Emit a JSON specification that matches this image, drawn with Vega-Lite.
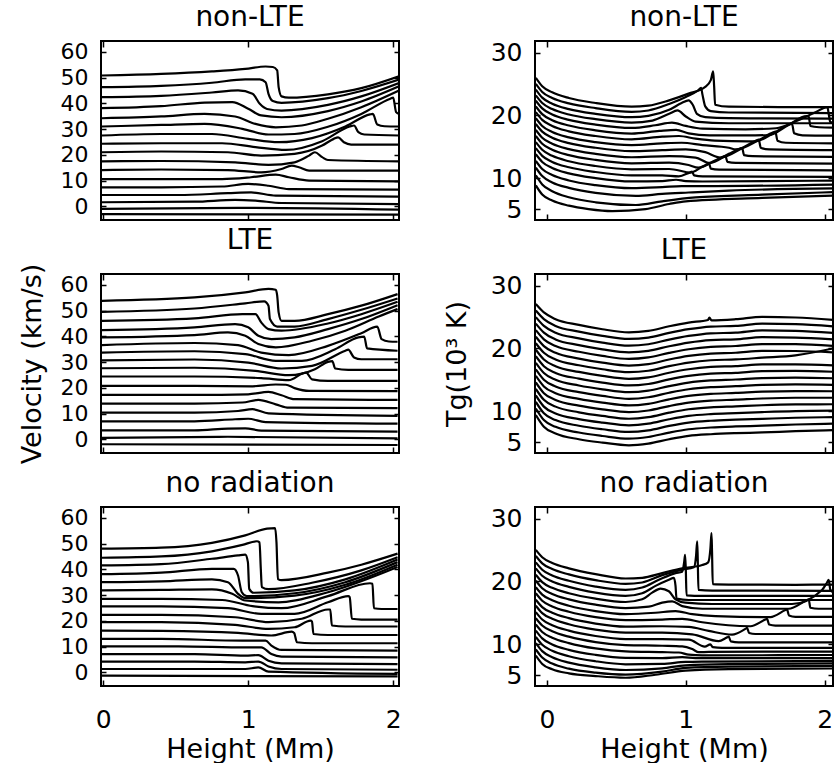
{
"$schema":"https://vega.github.io/schema/vega-lite/v6.json",
"background":"white",
"padding":{"left":17,"top":3,"right":0,"bottom":0},
"config":{
"font":"DejaVu Sans",
"view":{"stroke":"black","strokeWidth":2},
"axis":{"grid":false,"domain":false,"tickColor":"black","tickWidth":1.5,"labelColor":"black","labelFontSize":25,"titleFontSize":27,"titleFontWeight":"normal","titleColor":"black","labelFont":"DejaVu Sans","titleFont":"DejaVu Sans","format":"d"},
"title":{"fontSize":28,"fontWeight":"normal","color":"black","font":"DejaVu Sans","offset":8},
"line":{"color":"black","strokeWidth":2.2}
},
"datasets":{
"nv":[
{"c":0,"h":-0.01,"v":50.8},{"c":0,"h":0.4,"v":51.4},{"c":0,"h":0.75,"v":52.4},{"c":0,"h":0.98,"v":53.4},{"c":0,"h":1.12,"v":54.3},{"c":0,"h":1.17,"v":54.1},{"c":0,"h":1.2,"v":52.8},{"c":0,"h":1.21,"v":46.3},{"c":0,"h":1.23,"v":42.7},{"c":0,"h":1.28,"v":42.2},{"c":0,"h":1.55,"v":43.5},{"c":0,"h":1.78,"v":45.9},{"c":0,"h":2.04,"v":50.5},
{"c":1,"h":-0.01,"v":46.3},{"c":1,"h":0.4,"v":46.8},{"c":1,"h":0.75,"v":48.0},{"c":1,"h":0.98,"v":49.3},{"c":1,"h":1.08,"v":49.3},{"c":1,"h":1.12,"v":48.2},{"c":1,"h":1.14,"v":43.7},{"c":1,"h":1.17,"v":40.9},{"c":1,"h":1.23,"v":40.2},{"c":1,"h":1.55,"v":42.0},{"c":1,"h":1.78,"v":44.8},{"c":1,"h":2.04,"v":49.2},
{"c":2,"h":-0.01,"v":42.4},{"c":2,"h":0.4,"v":42.9},{"c":2,"h":0.75,"v":44.2},{"c":2,"h":0.93,"v":45.0},{"c":2,"h":1.03,"v":43.7},{"c":2,"h":1.08,"v":39.8},{"c":2,"h":1.13,"v":37.8},{"c":2,"h":1.23,"v":37.2},{"c":2,"h":1.55,"v":39.4},{"c":2,"h":1.78,"v":42.7},{"c":2,"h":2.04,"v":47.9},
{"c":3,"h":-0.01,"v":38.1},{"c":3,"h":0.4,"v":38.9},{"c":3,"h":0.7,"v":40.3},{"c":3,"h":0.89,"v":40.5},{"c":3,"h":1.0,"v":37.9},{"c":3,"h":1.09,"v":35.3},{"c":3,"h":1.23,"v":34.6},{"c":3,"h":1.55,"v":37.0},{"c":3,"h":1.78,"v":40.7},{"c":3,"h":2.04,"v":46.6},
{"c":4,"h":-0.01,"v":34.2},{"c":4,"h":0.4,"v":34.9},{"c":4,"h":0.7,"v":35.9},{"c":4,"h":0.91,"v":34.9},{"c":4,"h":1.05,"v":32.0},{"c":4,"h":1.19,"v":30.7},{"c":4,"h":1.37,"v":31.4},{"c":4,"h":1.55,"v":34.0},{"c":4,"h":1.78,"v":38.5},{"c":4,"h":2.04,"v":45.0},
{"c":5,"h":-0.01,"v":31.0},{"c":5,"h":0.4,"v":31.6},{"c":5,"h":0.7,"v":32.0},{"c":5,"h":0.96,"v":30.1},{"c":5,"h":1.14,"v":27.9},{"c":5,"h":1.32,"v":28.1},{"c":5,"h":1.55,"v":30.9},{"c":5,"h":1.78,"v":35.9},{"c":5,"h":1.98,"v":41.8},{"c":5,"h":2.0,"v":42.2},{"c":5,"h":2.02,"v":36.6},{"c":5,"h":2.04,"v":35.9},
{"c":6,"h":-0.01,"v":27.5},{"c":6,"h":0.4,"v":28.1},{"c":6,"h":0.75,"v":28.1},{"c":6,"h":1.0,"v":26.2},{"c":6,"h":1.21,"v":24.9},{"c":6,"h":1.44,"v":26.5},{"c":6,"h":1.67,"v":31.0},{"c":6,"h":1.84,"v":35.7},{"c":6,"h":1.86,"v":35.9},{"c":6,"h":1.89,"v":31.8},{"c":6,"h":1.94,"v":31.1},{"c":6,"h":2.04,"v":31.0},
{"c":7,"h":-0.01,"v":24.3},{"c":7,"h":0.4,"v":24.5},{"c":7,"h":0.82,"v":24.5},{"c":7,"h":1.05,"v":23.0},{"c":7,"h":1.26,"v":21.9},{"c":7,"h":1.51,"v":25.3},{"c":7,"h":1.7,"v":31.0},{"c":7,"h":1.73,"v":31.4},{"c":7,"h":1.76,"v":28.8},{"c":7,"h":1.8,"v":27.9},{"c":7,"h":2.04,"v":27.5},
{"c":8,"h":-0.01,"v":21.0},{"c":8,"h":0.4,"v":21.3},{"c":8,"h":0.86,"v":21.0},{"c":8,"h":1.09,"v":19.7},{"c":8,"h":1.32,"v":20.4},{"c":8,"h":1.51,"v":23.6},{"c":8,"h":1.59,"v":26.2},{"c":8,"h":1.62,"v":26.8},{"c":8,"h":1.66,"v":24.9},{"c":8,"h":1.71,"v":24.0},{"c":8,"h":2.04,"v":24.0},
{"c":9,"h":-0.01,"v":17.5},{"c":9,"h":0.4,"v":17.6},{"c":9,"h":0.91,"v":17.1},{"c":9,"h":1.14,"v":16.1},{"c":9,"h":1.32,"v":17.1},{"c":9,"h":1.42,"v":19.7},{"c":9,"h":1.46,"v":21.0},{"c":9,"h":1.51,"v":19.1},{"c":9,"h":1.55,"v":18.0},{"c":9,"h":2.04,"v":17.5},
{"c":10,"h":-0.01,"v":14.1},{"c":10,"h":0.4,"v":14.3},{"c":10,"h":0.86,"v":14.1},{"c":10,"h":1.09,"v":13.2},{"c":10,"h":1.23,"v":14.5},{"c":10,"h":1.3,"v":15.8},{"c":10,"h":1.35,"v":15.2},{"c":10,"h":1.42,"v":13.9},{"c":10,"h":2.04,"v":13.9},
{"c":11,"h":-0.01,"v":10.6},{"c":11,"h":0.4,"v":10.6},{"c":11,"h":0.82,"v":10.6},{"c":11,"h":1.02,"v":11.3},{"c":11,"h":1.19,"v":12.3},{"c":11,"h":1.28,"v":11.3},{"c":11,"h":1.42,"v":10.0},{"c":11,"h":2.04,"v":9.7},
{"c":12,"h":-0.01,"v":7.4},{"c":12,"h":0.4,"v":7.4},{"c":12,"h":0.82,"v":7.7},{"c":12,"h":1.0,"v":8.7},{"c":12,"h":1.14,"v":8.0},{"c":12,"h":1.28,"v":6.7},{"c":12,"h":2.04,"v":6.5},
{"c":13,"h":-0.01,"v":4.4},{"c":13,"h":0.52,"v":4.4},{"c":13,"h":0.86,"v":5.1},{"c":13,"h":1.02,"v":5.4},{"c":13,"h":1.19,"v":4.2},{"c":13,"h":2.04,"v":3.8},
{"c":14,"h":-0.01,"v":1.6},{"c":14,"h":0.63,"v":1.8},{"c":14,"h":0.91,"v":2.5},{"c":14,"h":1.05,"v":2.2},{"c":14,"h":1.23,"v":1.3},{"c":14,"h":2.04,"v":0.9},
{"c":15,"h":-0.01,"v":-1.0},{"c":15,"h":0.93,"v":-0.6},{"c":15,"h":2.04,"v":-1.3},
{"c":16,"h":-0.01,"v":-3.0},{"c":16,"h":2.04,"v":-3.2}
],
"lv":[
{"c":0,"h":-0.01,"v":53.8},{"c":0,"h":0.63,"v":55.1},{"c":0,"h":0.98,"v":57.1},{"c":0,"h":1.14,"v":58.4},{"c":0,"h":1.19,"v":58.1},{"c":0,"h":1.2,"v":55.8},{"c":0,"h":1.21,"v":49.3},{"c":0,"h":1.23,"v":46.0},{"c":0,"h":1.32,"v":46.0},{"c":0,"h":1.55,"v":48.6},{"c":0,"h":1.78,"v":51.9},{"c":0,"h":2.03,"v":56.4},
{"c":1,"h":-0.01,"v":49.5},{"c":1,"h":0.63,"v":50.8},{"c":1,"h":0.98,"v":52.8},{"c":1,"h":1.11,"v":53.6},{"c":1,"h":1.14,"v":51.9},{"c":1,"h":1.15,"v":46.7},{"c":1,"h":1.2,"v":43.8},{"c":1,"h":1.32,"v":43.8},{"c":1,"h":1.55,"v":46.7},{"c":1,"h":1.78,"v":50.3},{"c":1,"h":2.03,"v":54.7},
{"c":2,"h":-0.01,"v":46.0},{"c":2,"h":0.63,"v":47.0},{"c":2,"h":0.96,"v":48.6},{"c":2,"h":1.05,"v":48.6},{"c":2,"h":1.09,"v":45.4},{"c":2,"h":1.14,"v":42.8},{"c":2,"h":1.23,"v":42.2},{"c":2,"h":1.55,"v":45.0},{"c":2,"h":1.78,"v":48.6},{"c":2,"h":2.03,"v":53.4},
{"c":3,"h":-0.01,"v":42.4},{"c":3,"h":0.63,"v":43.5},{"c":3,"h":0.91,"v":44.7},{"c":3,"h":1.0,"v":43.5},{"c":3,"h":1.07,"v":40.2},{"c":3,"h":1.16,"v":38.9},{"c":3,"h":1.32,"v":39.6},{"c":3,"h":1.55,"v":42.8},{"c":3,"h":1.78,"v":46.7},{"c":3,"h":2.03,"v":52.1},
{"c":4,"h":-0.01,"v":39.6},{"c":4,"h":0.63,"v":40.5},{"c":4,"h":0.86,"v":41.5},{"c":4,"h":0.98,"v":40.2},{"c":4,"h":1.07,"v":37.0},{"c":4,"h":1.19,"v":35.7},{"c":4,"h":1.44,"v":38.3},{"c":4,"h":1.67,"v":42.2},{"c":4,"h":1.9,"v":47.7},{"c":4,"h":2.03,"v":50.6},
{"c":5,"h":-0.01,"v":36.6},{"c":5,"h":0.63,"v":37.4},{"c":5,"h":0.93,"v":36.6},{"c":5,"h":1.09,"v":33.7},{"c":5,"h":1.28,"v":32.7},{"c":5,"h":1.55,"v":36.3},{"c":5,"h":1.78,"v":41.2},{"c":5,"h":1.89,"v":43.8},{"c":5,"h":1.92,"v":38.9},{"c":5,"h":1.97,"v":38.0},{"c":5,"h":2.03,"v":37.9},
{"c":6,"h":-0.01,"v":33.7},{"c":6,"h":0.63,"v":34.2},{"c":6,"h":0.98,"v":33.1},{"c":6,"h":1.19,"v":30.5},{"c":6,"h":1.37,"v":30.5},{"c":6,"h":1.6,"v":35.0},{"c":6,"h":1.76,"v":39.6},{"c":6,"h":1.8,"v":39.9},{"c":6,"h":1.82,"v":35.3},{"c":6,"h":2.03,"v":34.4},
{"c":7,"h":-0.01,"v":30.7},{"c":7,"h":0.63,"v":31.0},{"c":7,"h":1.0,"v":29.8},{"c":7,"h":1.23,"v":27.5},{"c":7,"h":1.44,"v":28.5},{"c":7,"h":1.67,"v":34.4},{"c":7,"h":1.69,"v":34.8},{"c":7,"h":1.73,"v":31.8},{"c":7,"h":1.78,"v":31.1},{"c":7,"h":2.03,"v":31.1},
{"c":8,"h":-0.01,"v":27.6},{"c":8,"h":0.63,"v":27.8},{"c":8,"h":1.05,"v":26.6},{"c":8,"h":1.28,"v":24.9},{"c":8,"h":1.46,"v":27.2},{"c":8,"h":1.55,"v":30.1},{"c":8,"h":1.58,"v":30.4},{"c":8,"h":1.6,"v":27.5},{"c":8,"h":1.69,"v":27.0},{"c":8,"h":2.03,"v":27.0},
{"c":9,"h":-0.01,"v":24.4},{"c":9,"h":0.63,"v":24.4},{"c":9,"h":1.09,"v":23.8},{"c":9,"h":1.28,"v":23.0},{"c":9,"h":1.38,"v":25.7},{"c":9,"h":1.4,"v":25.9},{"c":9,"h":1.44,"v":23.3},{"c":9,"h":1.55,"v":22.7},{"c":9,"h":2.03,"v":22.7},
{"c":10,"h":-0.01,"v":20.8},{"c":10,"h":0.63,"v":20.8},{"c":10,"h":1.03,"v":20.6},{"c":10,"h":1.19,"v":21.3},{"c":10,"h":1.26,"v":21.2},{"c":10,"h":1.32,"v":19.9},{"c":10,"h":1.42,"v":18.8},{"c":10,"h":2.03,"v":18.7},
{"c":11,"h":-0.01,"v":17.3},{"c":11,"h":0.63,"v":17.3},{"c":11,"h":1.0,"v":17.5},{"c":11,"h":1.14,"v":18.4},{"c":11,"h":1.23,"v":17.1},{"c":11,"h":1.32,"v":15.6},{"c":11,"h":2.03,"v":15.3},
{"c":12,"h":-0.01,"v":13.9},{"c":12,"h":0.63,"v":13.9},{"c":12,"h":0.96,"v":14.3},{"c":12,"h":1.07,"v":15.3},{"c":12,"h":1.19,"v":13.6},{"c":12,"h":1.28,"v":12.3},{"c":12,"h":2.03,"v":12.1},
{"c":13,"h":-0.01,"v":10.4},{"c":13,"h":0.63,"v":10.4},{"c":13,"h":0.93,"v":11.0},{"c":13,"h":1.03,"v":11.7},{"c":13,"h":1.14,"v":10.1},{"c":13,"h":2.03,"v":9.1},
{"c":14,"h":-0.01,"v":7.0},{"c":14,"h":0.63,"v":7.0},{"c":14,"h":0.91,"v":7.8},{"c":14,"h":1.0,"v":8.0},{"c":14,"h":1.12,"v":6.7},{"c":14,"h":2.03,"v":6.1},
{"c":15,"h":-0.01,"v":3.5},{"c":15,"h":0.63,"v":3.5},{"c":15,"h":0.86,"v":4.2},{"c":15,"h":0.98,"v":4.3},{"c":15,"h":1.09,"v":3.4},{"c":15,"h":2.03,"v":3.0},
{"c":16,"h":-0.01,"v":0.6},{"c":16,"h":0.86,"v":1.0},{"c":16,"h":2.03,"v":0.4},
{"c":17,"h":-0.01,"v":-1.9},{"c":17,"h":2.03,"v":-2.2}
],
"rv":[
{"c":0,"h":-0.01,"v":48.0},{"c":0,"h":0.4,"v":48.4},{"c":0,"h":0.75,"v":50.3},{"c":0,"h":0.98,"v":53.2},{"c":0,"h":1.13,"v":55.8},{"c":0,"h":1.186,"v":56.0},{"c":0,"h":1.195,"v":50.6},{"c":0,"h":1.205,"v":36.2},{"c":0,"h":1.23,"v":35.8},{"c":0,"h":1.55,"v":38.7},{"c":0,"h":1.78,"v":41.8},{"c":0,"h":2.03,"v":46.1},
{"c":1,"h":-0.01,"v":44.5},{"c":1,"h":0.4,"v":45.0},{"c":1,"h":0.75,"v":47.0},{"c":1,"h":0.96,"v":49.5},{"c":1,"h":1.06,"v":50.9},{"c":1,"h":1.078,"v":50.5},{"c":1,"h":1.087,"v":40.2},{"c":1,"h":1.094,"v":33.1},{"c":1,"h":1.14,"v":32.3},{"c":1,"h":1.44,"v":34.8},{"c":1,"h":1.78,"v":39.6},{"c":1,"h":2.03,"v":44.7},
{"c":2,"h":-0.01,"v":41.5},{"c":2,"h":0.4,"v":42.0},{"c":2,"h":0.75,"v":44.1},{"c":2,"h":0.93,"v":45.4},{"c":2,"h":0.98,"v":45.7},{"c":2,"h":0.998,"v":42.8},{"c":2,"h":1.007,"v":32.4},{"c":2,"h":1.037,"v":30.9},{"c":2,"h":1.32,"v":31.8},{"c":2,"h":1.67,"v":36.1},{"c":2,"h":2.03,"v":43.8},
{"c":3,"h":-0.01,"v":38.1},{"c":3,"h":0.4,"v":38.7},{"c":3,"h":0.75,"v":40.2},{"c":3,"h":0.9,"v":40.2},{"c":3,"h":0.93,"v":37.6},{"c":3,"h":0.956,"v":31.1},{"c":3,"h":0.99,"v":29.6},{"c":3,"h":1.32,"v":30.7},{"c":3,"h":1.67,"v":35.0},{"c":3,"h":2.03,"v":42.8},
{"c":4,"h":-0.01,"v":35.0},{"c":4,"h":0.4,"v":35.3},{"c":4,"h":0.75,"v":36.1},{"c":4,"h":0.86,"v":35.0},{"c":4,"h":0.93,"v":30.5},{"c":4,"h":0.98,"v":28.8},{"c":4,"h":1.32,"v":29.8},{"c":4,"h":1.67,"v":34.0},{"c":4,"h":2.03,"v":41.8},
{"c":5,"h":-0.01,"v":31.8},{"c":5,"h":0.4,"v":32.0},{"c":5,"h":0.75,"v":32.2},{"c":5,"h":0.89,"v":30.5},{"c":5,"h":0.98,"v":27.9},{"c":5,"h":1.21,"v":27.2},{"c":5,"h":1.55,"v":31.1},{"c":5,"h":2.03,"v":40.9},
{"c":6,"h":-0.01,"v":28.5},{"c":6,"h":0.4,"v":28.5},{"c":6,"h":0.82,"v":28.1},{"c":6,"h":1.03,"v":25.7},{"c":6,"h":1.23,"v":24.9},{"c":6,"h":1.55,"v":29.6},{"c":6,"h":1.84,"v":34.6},{"c":6,"h":1.857,"v":34.4},{"c":6,"h":1.867,"v":24.9},{"c":6,"h":1.92,"v":24.6},{"c":6,"h":2.03,"v":24.6},
{"c":7,"h":-0.01,"v":25.6},{"c":7,"h":0.4,"v":25.6},{"c":7,"h":0.86,"v":24.9},{"c":7,"h":1.09,"v":22.7},{"c":7,"h":1.32,"v":22.7},{"c":7,"h":1.55,"v":27.2},{"c":7,"h":1.69,"v":29.6},{"c":7,"h":1.7,"v":29.2},{"c":7,"h":1.715,"v":20.8},{"c":7,"h":1.78,"v":20.5},{"c":7,"h":2.03,"v":20.5},
{"c":8,"h":-0.01,"v":22.3},{"c":8,"h":0.4,"v":22.3},{"c":8,"h":0.91,"v":21.4},{"c":8,"h":1.14,"v":19.5},{"c":8,"h":1.37,"v":20.8},{"c":8,"h":1.55,"v":24.4},{"c":8,"h":1.566,"v":24.4},{"c":8,"h":1.577,"v":18.2},{"c":8,"h":1.67,"v":17.8},{"c":8,"h":2.03,"v":17.8},
{"c":9,"h":-0.01,"v":19.5},{"c":9,"h":0.4,"v":19.5},{"c":9,"h":0.91,"v":18.4},{"c":9,"h":1.14,"v":16.9},{"c":9,"h":1.32,"v":17.5},{"c":9,"h":1.43,"v":20.1},{"c":9,"h":1.44,"v":19.7},{"c":9,"h":1.45,"v":14.9},{"c":9,"h":1.55,"v":14.5},{"c":9,"h":2.03,"v":14.5},
{"c":10,"h":-0.01,"v":16.2},{"c":10,"h":0.4,"v":16.1},{"c":10,"h":0.93,"v":15.3},{"c":10,"h":1.16,"v":14.3},{"c":10,"h":1.3,"v":15.8},{"c":10,"h":1.317,"v":15.3},{"c":10,"h":1.336,"v":11.7},{"c":10,"h":1.44,"v":11.3},{"c":10,"h":2.03,"v":11.3},
{"c":11,"h":-0.01,"v":13.0},{"c":11,"h":0.4,"v":13.0},{"c":11,"h":0.96,"v":12.3},{"c":11,"h":1.12,"v":12.3},{"c":11,"h":1.16,"v":10.4},{"c":11,"h":1.23,"v":8.7},{"c":11,"h":2.03,"v":8.4},
{"c":12,"h":-0.01,"v":10.1},{"c":12,"h":0.52,"v":10.1},{"c":12,"h":0.98,"v":9.7},{"c":12,"h":1.09,"v":9.7},{"c":12,"h":1.16,"v":7.1},{"c":12,"h":1.23,"v":6.1},{"c":12,"h":2.03,"v":5.8},
{"c":13,"h":-0.01,"v":7.1},{"c":13,"h":0.63,"v":7.1},{"c":13,"h":0.98,"v":6.5},{"c":13,"h":1.07,"v":6.7},{"c":13,"h":1.14,"v":4.5},{"c":13,"h":1.23,"v":3.5},{"c":13,"h":2.03,"v":3.2},
{"c":14,"h":-0.01,"v":4.2},{"c":14,"h":0.63,"v":4.2},{"c":14,"h":0.98,"v":3.9},{"c":14,"h":1.07,"v":4.2},{"c":14,"h":1.14,"v":2.3},{"c":14,"h":1.23,"v":1.3},{"c":14,"h":2.03,"v":1.0},
{"c":15,"h":-0.01,"v":1.3},{"c":15,"h":0.98,"v":1.3},{"c":15,"h":1.07,"v":1.9},{"c":15,"h":1.14,"v":0.3},{"c":15,"h":2.03,"v":-0.6},
{"c":16,"h":-0.01,"v":-1.3},{"c":16,"h":2.03,"v":-1.6}
],
"nt":[
{"c":0,"h":-0.08,"v":26.02},{"c":0,"h":-0.034,"v":24.68},{"c":0,"h":0.038,"v":23.71},{"c":0,"h":0.158,"v":22.79},{"c":0,"h":0.35,"v":21.99},{"c":0,"h":0.61,"v":21.4},{"c":0,"h":0.73,"v":21.56},{"c":0,"h":0.88,"v":22.42},{"c":0,"h":1.02,"v":23.49},{"c":0,"h":1.14,"v":24.57},{"c":0,"h":1.18,"v":25.64},{"c":0,"h":1.197,"v":27.04},{"c":0,"h":1.204,"v":24.68},{"c":0,"h":1.211,"v":21.72},{"c":0,"h":1.31,"v":21.4},{"c":0,"h":1.67,"v":21.34},{"c":0,"h":2.06,"v":21.34},
{"c":1,"h":-0.08,"v":25.05},{"c":1,"h":-0.034,"v":23.76},{"c":1,"h":0.038,"v":22.79},{"c":1,"h":0.158,"v":21.93},{"c":1,"h":0.35,"v":21.18},{"c":1,"h":0.61,"v":20.59},{"c":1,"h":0.73,"v":20.8},{"c":1,"h":0.88,"v":21.83},{"c":1,"h":1.0,"v":22.95},{"c":1,"h":1.09,"v":24.03},{"c":1,"h":1.11,"v":24.41},{"c":1,"h":1.12,"v":23.33},{"c":1,"h":1.14,"v":21.45},{"c":1,"h":1.18,"v":20.7},{"c":1,"h":1.31,"v":20.48},{"c":1,"h":2.06,"v":20.37},
{"c":2,"h":-0.08,"v":24.14},{"c":2,"h":-0.034,"v":22.85},{"c":2,"h":0.038,"v":21.88},{"c":2,"h":0.158,"v":21.02},{"c":2,"h":0.35,"v":20.27},{"c":2,"h":0.61,"v":19.73},{"c":2,"h":0.73,"v":19.94},{"c":2,"h":0.88,"v":20.91},{"c":2,"h":0.97,"v":21.99},{"c":2,"h":1.02,"v":22.42},{"c":2,"h":1.05,"v":21.72},{"c":2,"h":1.08,"v":20.27},{"c":2,"h":1.14,"v":19.73},{"c":2,"h":1.31,"v":19.57},{"c":2,"h":2.06,"v":19.51},
{"c":3,"h":-0.08,"v":23.22},{"c":3,"h":-0.034,"v":21.99},{"c":3,"h":0.038,"v":21.02},{"c":3,"h":0.158,"v":20.16},{"c":3,"h":0.35,"v":19.41},{"c":3,"h":0.61,"v":18.87},{"c":3,"h":0.76,"v":19.19},{"c":3,"h":0.88,"v":20.27},{"c":3,"h":0.94,"v":20.8},{"c":3,"h":1.0,"v":19.84},{"c":3,"h":1.07,"v":19.03},{"c":3,"h":1.31,"v":18.76},{"c":3,"h":2.06,"v":18.76},
{"c":4,"h":-0.08,"v":22.36},{"c":4,"h":-0.034,"v":21.13},{"c":4,"h":0.038,"v":20.16},{"c":4,"h":0.158,"v":19.3},{"c":4,"h":0.35,"v":18.55},{"c":4,"h":0.61,"v":18.01},{"c":4,"h":0.78,"v":18.44},{"c":4,"h":0.9,"v":18.87},{"c":4,"h":1.0,"v":18.33},{"c":4,"h":1.12,"v":17.9},{"c":4,"h":1.43,"v":17.79},{"c":4,"h":1.65,"v":17.96},{"c":4,"h":1.79,"v":19.03},{"c":4,"h":1.93,"v":20.48},{"c":4,"h":2.02,"v":21.34},{"c":4,"h":2.03,"v":20.11},{"c":4,"h":2.04,"v":18.98},{"c":4,"h":2.06,"v":18.87},
{"c":5,"h":-0.08,"v":21.45},{"c":5,"h":-0.034,"v":20.22},{"c":5,"h":0.038,"v":19.25},{"c":5,"h":0.158,"v":18.39},{"c":5,"h":0.35,"v":17.63},{"c":5,"h":0.61,"v":17.1},{"c":5,"h":0.81,"v":17.53},{"c":5,"h":0.93,"v":17.69},{"c":5,"h":1.02,"v":17.15},{"c":5,"h":1.17,"v":16.83},{"c":5,"h":1.5,"v":16.83},{"c":5,"h":1.6,"v":16.88},{"c":5,"h":1.74,"v":18.49},{"c":5,"h":1.87,"v":19.89},{"c":5,"h":1.885,"v":19.84},{"c":5,"h":1.897,"v":18.33},{"c":5,"h":1.96,"v":18.12},{"c":5,"h":2.06,"v":18.06},
{"c":6,"h":-0.08,"v":20.54},{"c":6,"h":-0.034,"v":19.3},{"c":6,"h":0.038,"v":18.33},{"c":6,"h":0.158,"v":17.47},{"c":6,"h":0.35,"v":16.72},{"c":6,"h":0.61,"v":16.18},{"c":6,"h":0.83,"v":16.61},{"c":6,"h":0.95,"v":16.72},{"c":6,"h":1.07,"v":16.29},{"c":6,"h":1.21,"v":15.97},{"c":6,"h":1.45,"v":15.86},{"c":6,"h":1.5,"v":15.86},{"c":6,"h":1.65,"v":17.42},{"c":6,"h":1.75,"v":18.6},{"c":6,"h":1.765,"v":18.65},{"c":6,"h":1.78,"v":17.15},{"c":6,"h":1.84,"v":16.83},{"c":6,"h":2.06,"v":16.77},
{"c":7,"h":-0.08,"v":19.57},{"c":7,"h":-0.034,"v":18.33},{"c":7,"h":0.038,"v":17.36},{"c":7,"h":0.158,"v":16.5},{"c":7,"h":0.35,"v":15.75},{"c":7,"h":0.61,"v":15.27},{"c":7,"h":0.83,"v":15.54},{"c":7,"h":0.97,"v":15.64},{"c":7,"h":1.12,"v":15.27},{"c":7,"h":1.31,"v":14.84},{"c":7,"h":1.36,"v":14.57},{"c":7,"h":1.53,"v":16.13},{"c":7,"h":1.63,"v":17.31},{"c":7,"h":1.645,"v":17.42},{"c":7,"h":1.66,"v":15.97},{"c":7,"h":1.72,"v":15.64},{"c":7,"h":2.06,"v":15.54},
{"c":8,"h":-0.08,"v":18.65},{"c":8,"h":-0.034,"v":17.42},{"c":8,"h":0.038,"v":16.45},{"c":8,"h":0.158,"v":15.59},{"c":8,"h":0.35,"v":14.84},{"c":8,"h":0.61,"v":14.3},{"c":8,"h":0.83,"v":14.46},{"c":8,"h":1.0,"v":14.57},{"c":8,"h":1.14,"v":14.14},{"c":8,"h":1.25,"v":13.28},{"c":8,"h":1.41,"v":14.84},{"c":8,"h":1.51,"v":16.02},{"c":8,"h":1.525,"v":16.13},{"c":8,"h":1.54,"v":14.84},{"c":8,"h":1.6,"v":14.57},{"c":8,"h":2.06,"v":14.46},
{"c":9,"h":-0.08,"v":17.69},{"c":9,"h":-0.034,"v":16.45},{"c":9,"h":0.038,"v":15.48},{"c":9,"h":0.158,"v":14.62},{"c":9,"h":0.35,"v":13.87},{"c":9,"h":0.61,"v":13.33},{"c":9,"h":0.88,"v":13.49},{"c":9,"h":1.07,"v":13.28},{"c":9,"h":1.17,"v":12.42},{"c":9,"h":1.31,"v":13.87},{"c":9,"h":1.39,"v":14.73},{"c":9,"h":1.405,"v":14.84},{"c":9,"h":1.42,"v":13.66},{"c":9,"h":1.48,"v":13.49},{"c":9,"h":2.06,"v":13.39},
{"c":10,"h":-0.08,"v":16.72},{"c":10,"h":-0.034,"v":15.48},{"c":10,"h":0.038,"v":14.52},{"c":10,"h":0.158,"v":13.66},{"c":10,"h":0.35,"v":12.9},{"c":10,"h":0.61,"v":12.36},{"c":10,"h":0.88,"v":12.47},{"c":10,"h":1.02,"v":12.09},{"c":10,"h":1.09,"v":11.66},{"c":10,"h":1.21,"v":12.79},{"c":10,"h":1.27,"v":13.44},{"c":10,"h":1.285,"v":13.55},{"c":10,"h":1.3,"v":12.58},{"c":10,"h":1.36,"v":12.42},{"c":10,"h":2.06,"v":12.31},
{"c":11,"h":-0.08,"v":15.75},{"c":11,"h":-0.034,"v":14.52},{"c":11,"h":0.038,"v":13.55},{"c":11,"h":0.158,"v":12.69},{"c":11,"h":0.35,"v":11.93},{"c":11,"h":0.61,"v":11.4},{"c":11,"h":0.88,"v":11.45},{"c":11,"h":1.0,"v":10.97},{"c":11,"h":1.03,"v":10.85},{"c":11,"h":1.12,"v":11.83},{"c":11,"h":1.16,"v":12.26},{"c":11,"h":1.168,"v":12.31},{"c":11,"h":1.18,"v":11.5},{"c":11,"h":1.24,"v":11.34},{"c":11,"h":2.06,"v":11.24},
{"c":12,"h":-0.08,"v":14.78},{"c":12,"h":-0.034,"v":13.55},{"c":12,"h":0.038,"v":12.58},{"c":12,"h":0.158,"v":11.72},{"c":12,"h":0.35,"v":10.97},{"c":12,"h":0.61,"v":10.43},{"c":12,"h":0.83,"v":10.43},{"c":12,"h":0.95,"v":10.27},{"c":12,"h":1.03,"v":10.91},{"c":12,"h":1.045,"v":11.02},{"c":12,"h":1.06,"v":10.43},{"c":12,"h":1.12,"v":10.27},{"c":12,"h":2.06,"v":10.2},
{"c":13,"h":-0.08,"v":13.81},{"c":13,"h":-0.034,"v":12.58},{"c":13,"h":0.038,"v":11.61},{"c":13,"h":0.158,"v":10.75},{"c":13,"h":0.35,"v":10.0},{"c":13,"h":0.61,"v":9.46},{"c":13,"h":0.83,"v":9.51},{"c":13,"h":0.93,"v":9.73},{"c":13,"h":1.0,"v":9.51},{"c":13,"h":1.12,"v":9.45},{"c":13,"h":2.06,"v":9.6},
{"c":14,"h":-0.08,"v":12.74},{"c":14,"h":-0.034,"v":11.45},{"c":14,"h":0.038,"v":10.48},{"c":14,"h":0.158,"v":9.62},{"c":14,"h":0.35,"v":8.87},{"c":14,"h":0.61,"v":8.38},{"c":14,"h":0.83,"v":8.55},{"c":14,"h":0.97,"v":8.71},{"c":14,"h":1.12,"v":8.7},{"c":14,"h":2.06,"v":8.95},
{"c":15,"h":-0.08,"v":11.66},{"c":15,"h":-0.034,"v":10.32},{"c":15,"h":0.038,"v":9.3},{"c":15,"h":0.158,"v":8.44},{"c":15,"h":0.35,"v":7.63},{"c":15,"h":0.64,"v":7.15},{"c":15,"h":0.83,"v":7.47},{"c":15,"h":1.02,"v":7.69},{"c":15,"h":1.31,"v":8.0},{"c":15,"h":2.06,"v":8.35},
{"c":16,"h":-0.08,"v":10.43},{"c":16,"h":-0.034,"v":8.98},{"c":16,"h":0.038,"v":7.9},{"c":16,"h":0.158,"v":6.93},{"c":16,"h":0.35,"v":6.13},{"c":16,"h":0.64,"v":5.7},{"c":16,"h":0.83,"v":6.29},{"c":16,"h":1.07,"v":6.9},{"c":16,"h":1.55,"v":7.35},{"c":16,"h":2.06,"v":7.75},
{"c":17,"h":-0.08,"v":8.82},{"c":17,"h":-0.034,"v":7.36},{"c":17,"h":0.038,"v":6.4},{"c":17,"h":0.158,"v":5.59},{"c":17,"h":0.3,"v":5.05},{"c":17,"h":0.47,"v":4.73},{"c":17,"h":0.71,"v":5.05},{"c":17,"h":0.88,"v":5.86},{"c":17,"h":1.0,"v":6.29},{"c":17,"h":1.55,"v":6.83},{"c":17,"h":2.06,"v":7.2}
],
"lt":[
{"c":0,"h":-0.08,"v":27.1},{"c":0,"h":-0.022,"v":25.76},{"c":0,"h":0.062,"v":24.68},{"c":0,"h":0.23,"v":23.77},{"c":0,"h":0.4,"v":23.07},{"c":0,"h":0.59,"v":22.58},{"c":0,"h":0.73,"v":22.8},{"c":0,"h":0.88,"v":23.55},{"c":0,"h":1.02,"v":24.14},{"c":0,"h":1.16,"v":24.55},{"c":0,"h":1.17,"v":24.95},{"c":0,"h":1.185,"v":24.5},{"c":0,"h":1.36,"v":24.68},{"c":0,"h":1.55,"v":25.06},{"c":0,"h":1.79,"v":24.95},{"c":0,"h":2.06,"v":24.57},
{"c":1,"h":-0.08,"v":26.06},{"c":1,"h":-0.022,"v":24.69},{"c":1,"h":0.062,"v":23.61},{"c":1,"h":0.23,"v":22.7},{"c":1,"h":0.4,"v":22.01},{"c":1,"h":0.59,"v":21.52},{"c":1,"h":0.73,"v":21.74},{"c":1,"h":0.88,"v":22.49},{"c":1,"h":1.02,"v":23.08},{"c":1,"h":1.18,"v":23.5},{"c":1,"h":1.36,"v":23.61},{"c":1,"h":1.55,"v":23.98},{"c":1,"h":1.79,"v":23.88},{"c":1,"h":2.06,"v":23.54},
{"c":2,"h":-0.08,"v":25.01},{"c":2,"h":-0.022,"v":23.61},{"c":2,"h":0.062,"v":22.53},{"c":2,"h":0.23,"v":21.62},{"c":2,"h":0.4,"v":20.93},{"c":2,"h":0.59,"v":20.45},{"c":2,"h":0.73,"v":20.68},{"c":2,"h":0.88,"v":21.42},{"c":2,"h":1.02,"v":22.0},{"c":2,"h":1.18,"v":22.42},{"c":2,"h":1.36,"v":22.53},{"c":2,"h":1.55,"v":22.88},{"c":2,"h":1.79,"v":22.81},{"c":2,"h":2.06,"v":22.49},
{"c":3,"h":-0.08,"v":23.97},{"c":3,"h":-0.022,"v":22.53},{"c":3,"h":0.062,"v":21.45},{"c":3,"h":0.23,"v":20.54},{"c":3,"h":0.4,"v":19.87},{"c":3,"h":0.59,"v":19.39},{"c":3,"h":0.73,"v":19.62},{"c":3,"h":0.88,"v":20.36},{"c":3,"h":1.02,"v":20.94},{"c":3,"h":1.18,"v":21.34},{"c":3,"h":1.36,"v":21.46},{"c":3,"h":1.55,"v":21.8},{"c":3,"h":1.79,"v":21.74},{"c":3,"h":2.06,"v":21.46},
{"c":4,"h":-0.08,"v":22.93},{"c":4,"h":-0.022,"v":21.46},{"c":4,"h":0.062,"v":20.38},{"c":4,"h":0.23,"v":19.47},{"c":4,"h":0.4,"v":18.81},{"c":4,"h":0.59,"v":18.33},{"c":4,"h":0.73,"v":18.57},{"c":4,"h":0.88,"v":19.3},{"c":4,"h":1.02,"v":19.88},{"c":4,"h":1.18,"v":20.27},{"c":4,"h":1.36,"v":20.4},{"c":4,"h":1.55,"v":20.71},{"c":4,"h":1.79,"v":20.68},{"c":4,"h":2.06,"v":20.43},
{"c":5,"h":-0.08,"v":21.88},{"c":5,"h":-0.022,"v":20.38},{"c":5,"h":0.062,"v":19.3},{"c":5,"h":0.23,"v":18.39},{"c":5,"h":0.4,"v":17.74},{"c":5,"h":0.59,"v":17.27},{"c":5,"h":0.73,"v":17.5},{"c":5,"h":0.88,"v":18.24},{"c":5,"h":1.02,"v":18.81},{"c":5,"h":1.18,"v":19.19},{"c":5,"h":1.36,"v":19.32},{"c":5,"h":1.55,"v":19.62},{"c":5,"h":1.79,"v":19.6},{"c":5,"h":2.06,"v":19.38},
{"c":6,"h":-0.08,"v":20.84},{"c":6,"h":-0.022,"v":19.31},{"c":6,"h":0.062,"v":18.23},{"c":6,"h":0.23,"v":17.32},{"c":6,"h":0.4,"v":16.68},{"c":6,"h":0.59,"v":16.21},{"c":6,"h":0.73,"v":16.44},{"c":6,"h":0.88,"v":17.18},{"c":6,"h":1.02,"v":17.75},{"c":6,"h":1.18,"v":18.12},{"c":6,"h":1.36,"v":18.25},{"c":6,"h":1.55,"v":18.53},{"c":6,"h":1.79,"v":18.9},{"c":6,"h":2.06,"v":20.0},
{"c":7,"h":-0.08,"v":19.8},{"c":7,"h":-0.022,"v":18.24},{"c":7,"h":0.062,"v":17.16},{"c":7,"h":0.23,"v":16.25},{"c":7,"h":0.4,"v":15.61},{"c":7,"h":0.59,"v":15.15},{"c":7,"h":0.73,"v":15.39},{"c":7,"h":0.88,"v":16.12},{"c":7,"h":1.02,"v":16.68},{"c":7,"h":1.18,"v":17.05},{"c":7,"h":1.36,"v":17.18},{"c":7,"h":1.55,"v":17.45},{"c":7,"h":1.79,"v":17.47},{"c":7,"h":2.06,"v":17.31},
{"c":8,"h":-0.08,"v":18.76},{"c":8,"h":-0.022,"v":17.17},{"c":8,"h":0.062,"v":16.09},{"c":8,"h":0.23,"v":15.18},{"c":8,"h":0.4,"v":14.55},{"c":8,"h":0.59,"v":14.09},{"c":8,"h":0.73,"v":14.33},{"c":8,"h":0.88,"v":15.06},{"c":8,"h":1.02,"v":15.62},{"c":8,"h":1.18,"v":15.98},{"c":8,"h":1.36,"v":16.11},{"c":8,"h":1.55,"v":16.37},{"c":8,"h":1.79,"v":16.41},{"c":8,"h":2.06,"v":16.28},
{"c":9,"h":-0.08,"v":17.71},{"c":9,"h":-0.022,"v":16.08},{"c":9,"h":0.062,"v":15.0},{"c":9,"h":0.23,"v":14.09},{"c":9,"h":0.4,"v":13.48},{"c":9,"h":0.59,"v":13.02},{"c":9,"h":0.73,"v":13.27},{"c":9,"h":0.88,"v":13.99},{"c":9,"h":1.02,"v":14.55},{"c":9,"h":1.18,"v":14.89},{"c":9,"h":1.36,"v":15.04},{"c":9,"h":1.55,"v":15.27},{"c":9,"h":1.79,"v":15.33},{"c":9,"h":2.06,"v":15.24},
{"c":10,"h":-0.08,"v":16.67},{"c":10,"h":-0.022,"v":15.01},{"c":10,"h":0.062,"v":13.93},{"c":10,"h":0.23,"v":13.02},{"c":10,"h":0.4,"v":12.42},{"c":10,"h":0.59,"v":11.96},{"c":10,"h":0.73,"v":12.21},{"c":10,"h":0.88,"v":12.93},{"c":10,"h":1.02,"v":13.49},{"c":10,"h":1.18,"v":13.82},{"c":10,"h":1.36,"v":13.97},{"c":10,"h":1.55,"v":14.19},{"c":10,"h":1.79,"v":14.27},{"c":10,"h":2.06,"v":14.2},
{"c":11,"h":-0.08,"v":15.63},{"c":11,"h":-0.022,"v":13.94},{"c":11,"h":0.062,"v":12.86},{"c":11,"h":0.23,"v":11.95},{"c":11,"h":0.4,"v":11.35},{"c":11,"h":0.59,"v":10.9},{"c":11,"h":0.73,"v":11.15},{"c":11,"h":0.88,"v":11.87},{"c":11,"h":1.02,"v":12.42},{"c":11,"h":1.18,"v":12.75},{"c":11,"h":1.36,"v":12.9},{"c":11,"h":1.55,"v":13.1},{"c":11,"h":1.79,"v":13.2},{"c":11,"h":2.06,"v":13.17},
{"c":12,"h":-0.08,"v":14.58},{"c":12,"h":-0.022,"v":12.86},{"c":12,"h":0.062,"v":11.78},{"c":12,"h":0.23,"v":10.87},{"c":12,"h":0.4,"v":10.28},{"c":12,"h":0.59,"v":9.83},{"c":12,"h":0.73,"v":10.09},{"c":12,"h":0.88,"v":10.8},{"c":12,"h":1.02,"v":11.35},{"c":12,"h":1.18,"v":11.67},{"c":12,"h":1.36,"v":11.82},{"c":12,"h":1.55,"v":12.01},{"c":12,"h":1.79,"v":12.13},{"c":12,"h":2.06,"v":12.13},
{"c":13,"h":-0.08,"v":13.54},{"c":13,"h":-0.022,"v":11.79},{"c":13,"h":0.062,"v":10.71},{"c":13,"h":0.23,"v":9.8},{"c":13,"h":0.4,"v":9.22},{"c":13,"h":0.59,"v":8.77},{"c":13,"h":0.73,"v":9.03},{"c":13,"h":0.88,"v":9.74},{"c":13,"h":1.02,"v":10.29},{"c":13,"h":1.18,"v":10.6},{"c":13,"h":1.36,"v":10.75},{"c":13,"h":1.55,"v":10.93},{"c":13,"h":1.79,"v":11.06},{"c":13,"h":2.06,"v":11.09},
{"c":14,"h":-0.08,"v":12.5},{"c":14,"h":-0.022,"v":10.71},{"c":14,"h":0.062,"v":9.63},{"c":14,"h":0.23,"v":8.72},{"c":14,"h":0.4,"v":8.16},{"c":14,"h":0.59,"v":7.72},{"c":14,"h":0.73,"v":7.98},{"c":14,"h":0.88,"v":8.69},{"c":14,"h":1.02,"v":9.23},{"c":14,"h":1.18,"v":9.52},{"c":14,"h":1.36,"v":9.68},{"c":14,"h":1.55,"v":9.84},{"c":14,"h":1.79,"v":10.0},{"c":14,"h":2.06,"v":10.06},
{"c":15,"h":-0.08,"v":11.46},{"c":15,"h":-0.022,"v":9.64},{"c":15,"h":0.062,"v":8.56},{"c":15,"h":0.23,"v":7.65},{"c":15,"h":0.4,"v":7.09},{"c":15,"h":0.59,"v":6.66},{"c":15,"h":0.73,"v":6.92},{"c":15,"h":0.88,"v":7.63},{"c":15,"h":1.02,"v":8.16},{"c":15,"h":1.18,"v":8.45},{"c":15,"h":1.36,"v":8.62},{"c":15,"h":1.55,"v":8.76},{"c":15,"h":1.79,"v":8.93},{"c":15,"h":2.06,"v":9.03},
{"c":16,"h":-0.08,"v":10.41},{"c":16,"h":-0.022,"v":8.56},{"c":16,"h":0.062,"v":7.48},{"c":16,"h":0.23,"v":6.57},{"c":16,"h":0.4,"v":6.02},{"c":16,"h":0.59,"v":5.59},{"c":16,"h":0.73,"v":5.86},{"c":16,"h":0.88,"v":6.56},{"c":16,"h":1.02,"v":7.09},{"c":16,"h":1.18,"v":7.37},{"c":16,"h":1.36,"v":7.54},{"c":16,"h":1.55,"v":7.66},{"c":16,"h":1.79,"v":7.85},{"c":16,"h":2.06,"v":7.98},
{"c":17,"h":-0.08,"v":9.37},{"c":17,"h":-0.022,"v":7.49},{"c":17,"h":0.062,"v":6.41},{"c":17,"h":0.23,"v":5.5},{"c":17,"h":0.4,"v":4.96},{"c":17,"h":0.59,"v":4.53},{"c":17,"h":0.73,"v":4.8},{"c":17,"h":0.88,"v":5.5},{"c":17,"h":1.02,"v":6.03},{"c":17,"h":1.18,"v":6.3},{"c":17,"h":1.36,"v":6.47},{"c":17,"h":1.55,"v":6.58},{"c":17,"h":1.79,"v":6.79},{"c":17,"h":2.06,"v":6.95}
],
"rt":[
{"c":0,"h":-0.08,"v":25.05},{"c":0,"h":-0.034,"v":23.87},{"c":0,"h":0.038,"v":22.96},{"c":0,"h":0.158,"v":22.1},{"c":0,"h":0.35,"v":21.18},{"c":0,"h":0.566,"v":20.48},{"c":0,"h":0.686,"v":20.59},{"c":0,"h":0.83,"v":21.34},{"c":0,"h":0.974,"v":22.1},{"c":0,"h":1.118,"v":22.63},{"c":0,"h":1.161,"v":23.06},{"c":0,"h":1.177,"v":25.21},{"c":0,"h":1.185,"v":27.74},{"c":0,"h":1.189,"v":24.68},{"c":0,"h":1.194,"v":19.57},{"c":0,"h":1.31,"v":19.51},{"c":0,"h":1.79,"v":19.46},{"c":0,"h":2.03,"v":19.51},{"c":0,"h":2.06,"v":19.51},
{"c":1,"h":-0.08,"v":24.08},{"c":1,"h":-0.034,"v":22.9},{"c":1,"h":0.038,"v":21.99},{"c":1,"h":0.158,"v":21.13},{"c":1,"h":0.35,"v":20.21},{"c":1,"h":0.566,"v":19.62},{"c":1,"h":0.686,"v":19.84},{"c":1,"h":0.83,"v":21.02},{"c":1,"h":0.974,"v":21.88},{"c":1,"h":1.058,"v":22.26},{"c":1,"h":1.074,"v":24.14},{"c":1,"h":1.082,"v":26.4},{"c":1,"h":1.086,"v":23.6},{"c":1,"h":1.091,"v":18.65},{"c":1,"h":1.19,"v":18.55},{"c":1,"h":2.06,"v":18.49},
{"c":2,"h":-0.08,"v":23.06},{"c":2,"h":-0.034,"v":21.88},{"c":2,"h":0.038,"v":20.97},{"c":2,"h":0.158,"v":20.11},{"c":2,"h":0.35,"v":19.19},{"c":2,"h":0.566,"v":18.65},{"c":2,"h":0.686,"v":19.03},{"c":2,"h":0.806,"v":20.27},{"c":2,"h":0.926,"v":21.34},{"c":2,"h":0.974,"v":21.56},{"c":2,"h":0.988,"v":23.06},{"c":2,"h":0.995,"v":24.25},{"c":2,"h":1.0,"v":21.99},{"c":2,"h":1.005,"v":17.79},{"c":2,"h":1.118,"v":17.69},{"c":2,"h":2.06,"v":17.69},
{"c":3,"h":-0.08,"v":22.1},{"c":3,"h":-0.034,"v":20.91},{"c":3,"h":0.038,"v":20.0},{"c":3,"h":0.158,"v":19.14},{"c":3,"h":0.35,"v":18.22},{"c":3,"h":0.566,"v":17.69},{"c":3,"h":0.686,"v":18.12},{"c":3,"h":0.782,"v":19.3},{"c":3,"h":0.878,"v":20.27},{"c":3,"h":0.914,"v":20.59},{"c":3,"h":0.926,"v":19.3},{"c":3,"h":0.933,"v":17.26},{"c":3,"h":1.022,"v":17.04},{"c":3,"h":2.06,"v":17.04},
{"c":4,"h":-0.08,"v":21.07},{"c":4,"h":-0.034,"v":19.89},{"c":4,"h":0.038,"v":18.98},{"c":4,"h":0.158,"v":18.12},{"c":4,"h":0.35,"v":17.26},{"c":4,"h":0.566,"v":16.72},{"c":4,"h":0.686,"v":17.15},{"c":4,"h":0.758,"v":18.22},{"c":4,"h":0.818,"v":18.87},{"c":4,"h":0.878,"v":18.44},{"c":4,"h":0.926,"v":17.15},{"c":4,"h":0.998,"v":16.61},{"c":4,"h":1.19,"v":16.4},{"c":4,"h":1.765,"v":16.4},{"c":4,"h":1.981,"v":18.65},{"c":4,"h":2.017,"v":19.84},{"c":4,"h":2.029,"v":20.27},{"c":4,"h":2.041,"v":18.65},{"c":4,"h":2.058,"v":18.33},
{"c":5,"h":-0.08,"v":20.11},{"c":5,"h":-0.034,"v":18.92},{"c":5,"h":0.038,"v":18.01},{"c":5,"h":0.158,"v":17.15},{"c":5,"h":0.35,"v":16.29},{"c":5,"h":0.566,"v":15.75},{"c":5,"h":0.734,"v":15.97},{"c":5,"h":0.83,"v":16.61},{"c":5,"h":0.902,"v":16.83},{"c":5,"h":0.974,"v":16.07},{"c":5,"h":1.118,"v":15.64},{"c":5,"h":1.74,"v":15.64},{"c":5,"h":1.873,"v":17.04},{"c":5,"h":1.885,"v":17.15},{"c":5,"h":1.897,"v":15.81},{"c":5,"h":1.957,"v":15.64},{"c":5,"h":2.058,"v":15.64},
{"c":6,"h":-0.08,"v":19.08},{"c":6,"h":-0.034,"v":17.9},{"c":6,"h":0.038,"v":16.99},{"c":6,"h":0.158,"v":16.13},{"c":6,"h":0.35,"v":15.27},{"c":6,"h":0.566,"v":14.78},{"c":6,"h":0.782,"v":15.0},{"c":6,"h":0.926,"v":15.27},{"c":6,"h":1.046,"v":14.78},{"c":6,"h":1.213,"v":14.46},{"c":6,"h":1.609,"v":14.3},{"c":6,"h":1.717,"v":15.43},{"c":6,"h":1.729,"v":15.54},{"c":6,"h":1.743,"v":14.57},{"c":6,"h":1.789,"v":14.35},{"c":6,"h":2.058,"v":14.35},
{"c":7,"h":-0.08,"v":18.12},{"c":7,"h":-0.034,"v":16.93},{"c":7,"h":0.038,"v":16.02},{"c":7,"h":0.158,"v":15.16},{"c":7,"h":0.35,"v":14.3},{"c":7,"h":0.566,"v":13.82},{"c":7,"h":0.83,"v":13.92},{"c":7,"h":0.974,"v":14.03},{"c":7,"h":1.118,"v":13.49},{"c":7,"h":1.465,"v":12.85},{"c":7,"h":1.573,"v":13.92},{"c":7,"h":1.585,"v":14.03},{"c":7,"h":1.6,"v":13.12},{"c":7,"h":1.645,"v":12.96},{"c":7,"h":2.058,"v":12.96},
{"c":8,"h":-0.08,"v":17.09},{"c":8,"h":-0.034,"v":15.91},{"c":8,"h":0.038,"v":15.0},{"c":8,"h":0.158,"v":14.14},{"c":8,"h":0.35,"v":13.28},{"c":8,"h":0.566,"v":12.79},{"c":8,"h":0.83,"v":12.85},{"c":8,"h":1.022,"v":12.74},{"c":8,"h":1.165,"v":12.1},{"c":8,"h":1.333,"v":11.5},{"c":8,"h":1.429,"v":12.42},{"c":8,"h":1.441,"v":12.58},{"c":8,"h":1.456,"v":11.77},{"c":8,"h":1.501,"v":11.61},{"c":8,"h":2.058,"v":11.61},
{"c":9,"h":-0.08,"v":16.13},{"c":9,"h":-0.034,"v":14.94},{"c":9,"h":0.038,"v":14.03},{"c":9,"h":0.158,"v":13.17},{"c":9,"h":0.35,"v":12.31},{"c":9,"h":0.566,"v":11.83},{"c":9,"h":0.83,"v":11.83},{"c":9,"h":1.046,"v":11.56},{"c":9,"h":1.237,"v":10.48},{"c":9,"h":1.297,"v":11.07},{"c":9,"h":1.309,"v":11.18},{"c":9,"h":1.324,"v":10.43},{"c":9,"h":1.381,"v":10.27},{"c":9,"h":2.058,"v":10.27},
{"c":10,"h":-0.08,"v":15.11},{"c":10,"h":-0.034,"v":13.92},{"c":10,"h":0.038,"v":13.01},{"c":10,"h":0.158,"v":12.15},{"c":10,"h":0.35,"v":11.29},{"c":10,"h":0.566,"v":10.8},{"c":10,"h":0.83,"v":10.8},{"c":10,"h":1.022,"v":10.7},{"c":10,"h":1.137,"v":9.6},{"c":10,"h":1.177,"v":9.95},{"c":10,"h":1.194,"v":9.5},{"c":10,"h":1.261,"v":9.4},{"c":10,"h":2.058,"v":9.4},
{"c":11,"h":-0.08,"v":14.14},{"c":11,"h":-0.034,"v":12.96},{"c":11,"h":0.038,"v":12.04},{"c":11,"h":0.158,"v":11.18},{"c":11,"h":0.35,"v":10.32},{"c":11,"h":0.566,"v":9.84},{"c":11,"h":0.83,"v":9.73},{"c":11,"h":0.974,"v":9.62},{"c":11,"h":1.046,"v":9.2},{"c":11,"h":1.094,"v":8.7},{"c":11,"h":1.165,"v":8.75},{"c":11,"h":2.058,"v":8.8},
{"c":12,"h":-0.08,"v":13.12},{"c":12,"h":-0.034,"v":11.93},{"c":12,"h":0.038,"v":11.02},{"c":12,"h":0.158,"v":10.16},{"c":12,"h":0.35,"v":9.3},{"c":12,"h":0.566,"v":8.82},{"c":12,"h":0.83,"v":8.71},{"c":12,"h":0.95,"v":8.65},{"c":12,"h":1.022,"v":8.3},{"c":12,"h":1.118,"v":8.2},{"c":12,"h":2.058,"v":8.25},
{"c":13,"h":-0.08,"v":12.15},{"c":13,"h":-0.034,"v":10.91},{"c":13,"h":0.038,"v":9.94},{"c":13,"h":0.158,"v":9.08},{"c":13,"h":0.35,"v":8.28},{"c":13,"h":0.566,"v":7.79},{"c":13,"h":0.83,"v":7.74},{"c":13,"h":0.974,"v":7.9},{"c":13,"h":1.07,"v":7.75},{"c":13,"h":2.058,"v":7.75},
{"c":14,"h":-0.08,"v":11.13},{"c":14,"h":-0.034,"v":9.89},{"c":14,"h":0.038,"v":8.92},{"c":14,"h":0.158,"v":8.06},{"c":14,"h":0.35,"v":7.26},{"c":14,"h":0.566,"v":6.77},{"c":14,"h":0.83,"v":6.83},{"c":14,"h":0.998,"v":7.15},{"c":14,"h":1.118,"v":7.2},{"c":14,"h":2.058,"v":7.3},
{"c":15,"h":-0.08,"v":10.16},{"c":15,"h":-0.034,"v":8.87},{"c":15,"h":0.038,"v":7.9},{"c":15,"h":0.158,"v":7.04},{"c":15,"h":0.35,"v":6.29},{"c":15,"h":0.566,"v":5.86},{"c":15,"h":0.83,"v":6.13},{"c":15,"h":0.998,"v":6.61},{"c":15,"h":1.31,"v":6.8},{"c":15,"h":2.058,"v":6.9},
{"c":16,"h":-0.08,"v":9.14},{"c":16,"h":-0.034,"v":7.85},{"c":16,"h":0.038,"v":6.88},{"c":16,"h":0.158,"v":6.07},{"c":16,"h":0.35,"v":5.43},{"c":16,"h":0.566,"v":5.11},{"c":16,"h":0.83,"v":5.59},{"c":16,"h":0.998,"v":6.2},{"c":16,"h":1.31,"v":6.4},{"c":16,"h":2.058,"v":6.5},
{"c":17,"h":-0.08,"v":8.17},{"c":17,"h":-0.034,"v":6.83},{"c":17,"h":0.038,"v":5.97},{"c":17,"h":0.158,"v":5.32},{"c":17,"h":0.35,"v":4.89},{"c":17,"h":0.566,"v":4.62},{"c":17,"h":0.782,"v":5.1},{"c":17,"h":0.998,"v":5.75},{"c":17,"h":1.31,"v":6.0},{"c":17,"h":2.058,"v":6.1}
]
},
"columns":2,
"spacing":{"row":54,"column":136},
"bounds":"flush",
"concat":[
{"title":"non-LTE","width":298,"height":179,"data":{"name":"nv"},
 "layer":[
  {"mark":{"type":"line","clip":true,"interpolate":"monotone"},
   "encoding":{
    "x":{"field":"h","type":"quantitative","scale":{"domain":[-0.015,2.04],"nice":false,"zero":false},"axis":{"values":[0,1,2],"labels":false,"title":null,"tickSize":-6}},
    "y":{"field":"v","type":"quantitative","scale":{"domain":[-5.3,64.2],"nice":false,"zero":false},"axis":{"values":[0,10,20,30,40,50,60],"title":null,"tickSize":-5,"labelPadding":18,"labelFontSize":22}},
    "detail":{"field":"c","type":"nominal"}}},
  {"mark":{"type":"point","opacity":0},
   "encoding":{
    "x":{"field":"h","type":"quantitative","axis":{"orient":"top","values":[0,1,2],"labels":false,"title":null,"tickSize":-6}},
    "y":{"field":"v","type":"quantitative","axis":{"orient":"right","values":[0,10,20,30,40,50,60],"labels":false,"title":null,"tickSize":-5}}}}
 ],
 "resolve":{"axis":{"x":"independent","y":"independent"}}},
{"title":"non-LTE","width":298,"height":179,"data":{"name":"nt"},
 "layer":[
  {"mark":{"type":"line","clip":true,"interpolate":"monotone"},
   "encoding":{
    "x":{"field":"h","type":"quantitative","scale":{"domain":[-0.086,2.06],"nice":false,"zero":false},"axis":{"values":[0,1,2],"labels":false,"title":null,"tickSize":-6}},
    "y":{"field":"v","type":"quantitative","scale":{"domain":[3.3,31.9],"nice":false,"zero":false},"axis":{"values":[5,10,20,30],"title":null,"tickSize":-5,"labelPadding":18}},
    "detail":{"field":"c","type":"nominal"}}},
  {"mark":{"type":"point","opacity":0},
   "encoding":{
    "x":{"field":"h","type":"quantitative","axis":{"orient":"top","values":[0,1,2],"labels":false,"title":null,"tickSize":-6}},
    "y":{"field":"v","type":"quantitative","axis":{"orient":"right","values":[5,10,20,30],"labels":false,"title":null,"tickSize":-5}}}}
 ],
 "resolve":{"axis":{"x":"independent","y":"independent"}}},
{"title":"LTE","width":298,"height":179,"data":{"name":"lv"},
 "layer":[
  {"mark":{"type":"line","clip":true,"interpolate":"monotone"},
   "encoding":{
    "x":{"field":"h","type":"quantitative","scale":{"domain":[-0.015,2.04],"nice":false,"zero":false},"axis":{"values":[0,1,2],"labels":false,"title":null,"tickSize":-6}},
    "y":{"field":"v","type":"quantitative","scale":{"domain":[-5.3,64.2],"nice":false,"zero":false},"axis":{"values":[0,10,20,30,40,50,60],"title":"Velocity (km/s)","titlePadding":14,"tickSize":-5,"labelPadding":18,"labelFontSize":22}},
    "detail":{"field":"c","type":"nominal"}}},
  {"mark":{"type":"point","opacity":0},
   "encoding":{
    "x":{"field":"h","type":"quantitative","axis":{"orient":"top","values":[0,1,2],"labels":false,"title":null,"tickSize":-6}},
    "y":{"field":"v","type":"quantitative","axis":{"orient":"right","values":[0,10,20,30,40,50,60],"labels":false,"title":null,"tickSize":-5}}}}
 ],
 "resolve":{"axis":{"x":"independent","y":"independent"}}},
{"title":"LTE","width":298,"height":179,"data":{"name":"lt"},
 "layer":[
  {"mark":{"type":"line","clip":true,"interpolate":"monotone"},
   "encoding":{
    "x":{"field":"h","type":"quantitative","scale":{"domain":[-0.086,2.06],"nice":false,"zero":false},"axis":{"values":[0,1,2],"labels":false,"title":null,"tickSize":-6}},
    "y":{"field":"v","type":"quantitative","scale":{"domain":[3.3,31.9],"nice":false,"zero":false},"axis":{"values":[5,10,20,30],"title":"Tg(10³ K)","titlePadding":19,"tickSize":-5,"labelPadding":18}},
    "detail":{"field":"c","type":"nominal"}}},
  {"mark":{"type":"point","opacity":0},
   "encoding":{
    "x":{"field":"h","type":"quantitative","axis":{"orient":"top","values":[0,1,2],"labels":false,"title":null,"tickSize":-6}},
    "y":{"field":"v","type":"quantitative","axis":{"orient":"right","values":[5,10,20,30],"labels":false,"title":null,"tickSize":-5}}}}
 ],
 "resolve":{"axis":{"x":"independent","y":"independent"}}},
{"title":"no radiation","width":298,"height":179,"data":{"name":"rv"},
 "layer":[
  {"mark":{"type":"line","clip":true,"interpolate":"monotone"},
   "encoding":{
    "x":{"field":"h","type":"quantitative","scale":{"domain":[-0.015,2.04],"nice":false,"zero":false},"axis":{"values":[0,1,2],"title":"Height (Mm)","tickSize":-6,"labelPadding":27,"titlePadding":4}},
    "y":{"field":"v","type":"quantitative","scale":{"domain":[-5.3,64.2],"nice":false,"zero":false},"axis":{"values":[0,10,20,30,40,50,60],"title":null,"tickSize":-5,"labelPadding":18,"labelFontSize":22}},
    "detail":{"field":"c","type":"nominal"}}},
  {"mark":{"type":"point","opacity":0},
   "encoding":{
    "x":{"field":"h","type":"quantitative","axis":{"orient":"top","values":[0,1,2],"labels":false,"title":null,"tickSize":-6}},
    "y":{"field":"v","type":"quantitative","axis":{"orient":"right","values":[0,10,20,30,40,50,60],"labels":false,"title":null,"tickSize":-5}}}}
 ],
 "resolve":{"axis":{"x":"independent","y":"independent"}}},
{"title":"no radiation","width":298,"height":179,"data":{"name":"rt"},
 "layer":[
  {"mark":{"type":"line","clip":true,"interpolate":"monotone"},
   "encoding":{
    "x":{"field":"h","type":"quantitative","scale":{"domain":[-0.086,2.06],"nice":false,"zero":false},"axis":{"values":[0,1,2],"title":"Height (Mm)","tickSize":-6,"labelPadding":27,"titlePadding":4}},
    "y":{"field":"v","type":"quantitative","scale":{"domain":[3.3,31.9],"nice":false,"zero":false},"axis":{"values":[5,10,20,30],"title":null,"tickSize":-5,"labelPadding":18}},
    "detail":{"field":"c","type":"nominal"}}},
  {"mark":{"type":"point","opacity":0},
   "encoding":{
    "x":{"field":"h","type":"quantitative","axis":{"orient":"top","values":[0,1,2],"labels":false,"title":null,"tickSize":-6}},
    "y":{"field":"v","type":"quantitative","axis":{"orient":"right","values":[5,10,20,30],"labels":false,"title":null,"tickSize":-5}}}}
 ],
 "resolve":{"axis":{"x":"independent","y":"independent"}}}
]
}
